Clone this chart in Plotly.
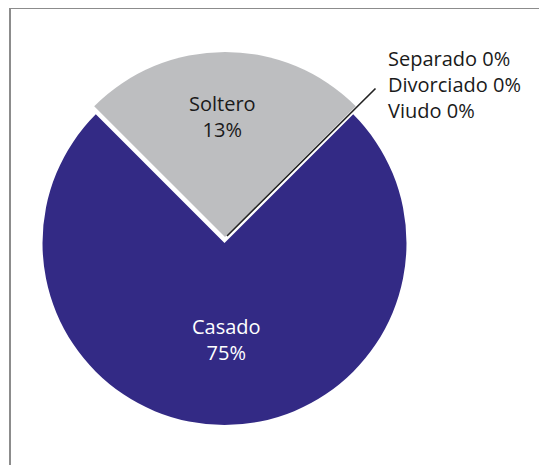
"""Estado civil: gráfico de torta."""

import plotly.graph_objects as go

W, H = 547, 465
OFF = 8  # page body margin in the browser

labels = ["Casado", "Soltero", "Separado", "Divorciado", "Viudo"]
pct_text = [75, 13, 0, 0, 0]
# share of the circle each wedge covers in the drawing
wedge_share = [75, 25]

BLUE = "#332a85"
GRAY = "#bdbec0"
FONT = "Open Sans"


def px(x, y):
    """screen pixel -> paper coords."""
    return (x - OFF) / W, (H - (y - OFF)) / H


def px_dom(cx, cy, r):
    """domain (paper) for a pie centred at screen pixel (cx, cy) with radius r."""
    x0, y0 = px(cx - r, cy + r)
    x1, y1 = px(cx + r, cy - r)
    return dict(x=[x0, x1], y=[y0, y1])


fig = go.Figure()

# Casado (blue) with a transparent gap where Soltero sits
fig.add_trace(
    go.Pie(
        values=wedge_share,
        labels=[labels[0], "_gap"],
        sort=False,
        direction="clockwise",
        rotation=45,
        marker=dict(colors=[BLUE, "rgba(0,0,0,0)"], line=dict(width=0)),
        textinfo="none",
        hoverinfo="skip",
        domain=px_dom(224.5, 243, 182),
        showlegend=False,
    )
)

# Soltero (gray), drawn slightly pulled up
fig.add_trace(
    go.Pie(
        values=[wedge_share[1], wedge_share[0]],
        labels=[labels[1], "_gap2"],
        sort=False,
        direction="clockwise",
        rotation=-45,
        marker=dict(colors=[GRAY, "rgba(0,0,0,0)"], line=dict(width=0)),
        textinfo="none",
        hoverinfo="skip",
        domain=px_dom(225, 237, 185),
        showlegend=False,
    )
)

cas_x, cas_y = px(226, 339)
sol_x, sol_y = px(222, 117)
lead_x, lead_y = px(227, 236)
zero_x, zero_y = px(386, 84)

annots = [
    dict(
        x=cas_x, y=cas_y,
        text=f"{labels[0]}<br>{pct_text[0]}%",
        font=dict(color="white", size=20, family=FONT),
    ),
    dict(
        x=sol_x, y=sol_y,
        text=f"{labels[1]}<br>{pct_text[1]}%",
        font=dict(color="#1a1a1a", size=20, family=FONT),
    ),
    # leader line for the zero slices
    dict(
        x=lead_x, y=lead_y,
        ax=150, ay=-149,
        text="",
        showarrow=True, arrowhead=0, arrowwidth=1.6, arrowcolor="#222222",
    ),
    dict(
        x=zero_x, y=zero_y,
        xanchor="left",
        align="left",
        text="<br>".join(f"{l} {p}%" for l, p in zip(labels[2:], pct_text[2:])),
        font=dict(color="#1a1a1a", size=20, family=FONT),
    ),
]
for a in annots:
    a.setdefault("showarrow", False)
    a.setdefault("xanchor", "center")
    a.setdefault("yanchor", "middle")
    a.update(xref="paper", yref="paper")

bx0, by1 = px(10, 8)
fig.update_layout(
    width=W,
    height=H,
    margin=dict(l=0, r=0, t=0, b=0),
    paper_bgcolor="white",
    plot_bgcolor="white",
    annotations=annots,
    shapes=[
        dict(
            type="rect", xref="paper", yref="paper",
            x0=bx0, x1=1.05, y0=-0.05, y1=by1,
            line=dict(color="#8c8c8c", width=2),
        )
    ],
)

fig.write_html("out.html")
